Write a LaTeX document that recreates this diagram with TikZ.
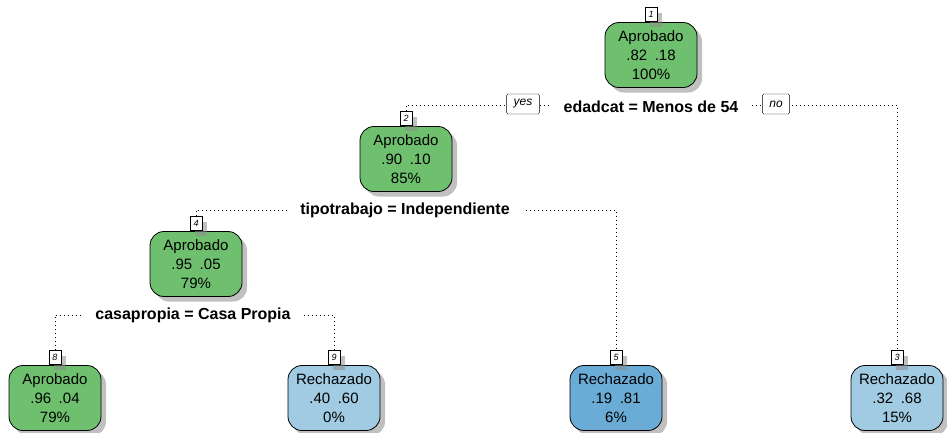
\documentclass[tikz,border=0pt]{standalone}
\usepackage{fontspec}
\setmainfont{Liberation Sans}
\usetikzlibrary{positioning,shadows}
\definecolor{aprobado}{RGB}{110,192,110}
\definecolor{rechlight}{RGB}{160,203,226}
\definecolor{rechdark}{RGB}{106,172,214}
\begin{document}
\begin{tikzpicture}[x=1pt,y=-1pt,
  shade/.style={drop shadow={shadow xshift=5pt,shadow yshift=-5pt,fill=black!45,opacity=.55}},
  leaf/.style={draw, thick, rounded corners=14pt, minimum width=92pt, minimum height=65pt,
    inner sep=2pt, align=center, font=\fontsize{15}{19}\selectfont, shade},
  numbox/.style={draw, thick, fill=white, inner sep=0.5pt, minimum width=12pt, minimum height=14pt,
    font=\fontsize{9}{10}\selectfont\itshape, shade},
  split/.style={line width=1pt, dash pattern=on 1pt off 3pt},
  splitlab/.style={fill=white, inner xsep=13pt, inner ysep=2pt, font=\fontsize{16}{18}\selectfont\bfseries},
  yesno/.style={draw, fill=white, rounded corners=1.5pt, inner xsep=7pt, minimum height=20pt,
    font=\fontsize{12}{13}\selectfont\itshape},]
\useasboundingbox (0,0) rectangle (947,432);

% tree nodes
\node (b1) at (651,55) [leaf,fill=aprobado] {Aprobado\\.82\enspace.18\\100\%};
\node (b2) at (406,159) [leaf,fill=aprobado] {Aprobado\\.90\enspace.10\\85\%};
\node (b4) at (196,264) [leaf,fill=aprobado] {Aprobado\\.95\enspace.05\\79\%};
\node (b8) at (55,398) [leaf,fill=aprobado] {Aprobado\\.96\enspace.04\\79\%};
\node (b9) at (334,398) [leaf,fill=rechlight] {Rechazado\\.40\enspace.60\\0\%};
\node (b5) at (616,398) [leaf,fill=rechdark] {Rechazado\\.19\enspace.81\\6\%};
\node (b3) at (897,398) [leaf,fill=rechlight] {Rechazado\\.32\enspace.68\\15\%};

% node numbers
\node (n1) [numbox,above=0pt of b1] {1};
\node (n2) [numbox,above=0pt of b2] {2};
\node (n4) [numbox,above=0pt of b4] {4};
\node (n8) [numbox,above=0pt of b8] {8};
\node (n9) [numbox,above=0pt of b9] {9};
\node (n5) [numbox,above=0pt of b5] {5};
\node (n3) [numbox,above=0pt of b3] {3};

% splits
\coordinate (s1) at (651,105);
\coordinate (s2) at (406,210);
\coordinate (s4) at (196,315);
\draw[split] (n2.north) |- (s1) -| (n3.north);
\draw[split] (n4.north) |- (s2) -| (n5.north);
\draw[split] (n8.north) |- (s4) -| (n9.north);

\node (l1) at (651,107) [splitlab] {edadcat = Menos de 54};
\node (l2) at (405,210) [splitlab] {tipotrabajo = Independiente};
\node (l4) at (193,315) [splitlab] {casapropia = Casa Propia};
\node (yes) at (523,104) [yesno] {yes};
\node (no) at (776,104) [yesno] {no};
\end{tikzpicture}
\end{document}
